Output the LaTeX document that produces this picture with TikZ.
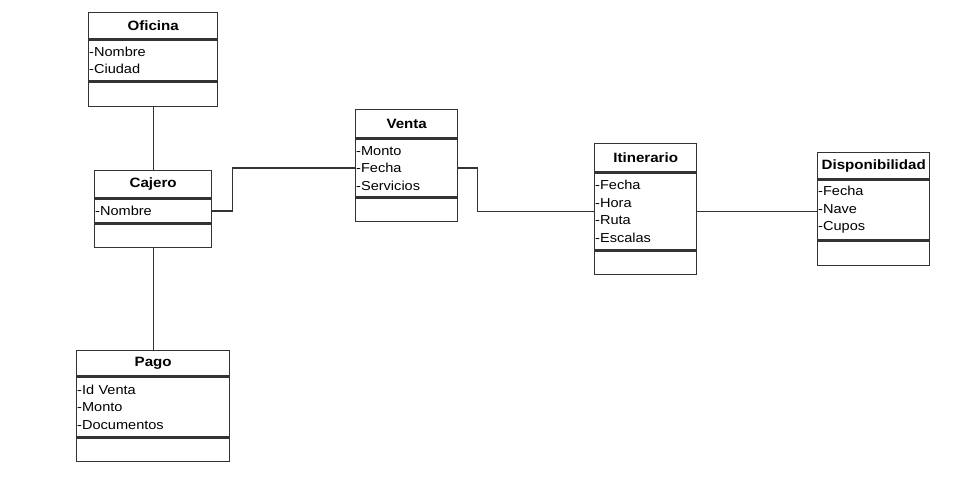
\documentclass[tikz,border=0pt]{standalone}
\usepackage{fontspec}
\setmainfont{Liberation Sans}[FakeStretch=1.12]
\usetikzlibrary{calc}

\begin{document}
\begin{tikzpicture}[x=1pt,y=-1pt,
    caja/.style={draw=black!80, line width=1.4pt, anchor=north west,
      inner xsep=0.5pt, inner ysep=0pt},
    titulo/.style={caja, font=\fontsize{13.5}{16}\selectfont\bfseries},
    atributos/.style={caja, align=left, font=\fontsize{13}{17.5}\selectfont},
    linea/.style={draw=black!80, line width=1.4pt}]

      \useasboundingbox (0,0) rectangle (956,486);

      % Oficina
      \node[titulo, minimum width=129, minimum height=26] (ofiT) at (88,12) {Oficina};
      \node[atributos, minimum width=129, minimum height=41, text width=128]
        (ofiA) at (ofiT.south west) {-Nombre\\-Ciudad};
      \node[caja, minimum width=129, minimum height=24] (ofiO) at (ofiA.south west) {};

      % Cajero
      \node[titulo, minimum width=117, minimum height=27] (cajT) at (94,170) {Cajero};
      \node[atributos, minimum width=117, minimum height=24, text width=116]
        (cajA) at (cajT.south west) {-Nombre};
      \node[caja, minimum width=117, minimum height=23] (cajO) at (cajA.south west) {};

      % Pago
      \node[titulo, minimum width=153, minimum height=25] (pagT) at (76,350) {Pago};
      \node[atributos, minimum width=153, minimum height=60, text width=152]
        (pagA) at (pagT.south west) {-Id Venta\\-Monto\\-Documentos};
      \node[caja, minimum width=153, minimum height=23] (pagO) at (pagA.south west) {};

      % Venta
      \node[titulo, minimum width=102, minimum height=28] (venT) at (355,109) {Venta};
      \node[atributos, minimum width=102, minimum height=58, text width=101]
        (venA) at (venT.south west) {-Monto\\-Fecha\\-Servicios};
      \node[caja, minimum width=102, minimum height=23] (venO) at (venA.south west) {};

      % Itinerario
      \node[titulo, minimum width=102, minimum height=28] (itiT) at (594,143) {Itinerario};
      \node[atributos, minimum width=102, minimum height=77, text width=101]
        (itiA) at (itiT.south west) {-Fecha\\-Hora\\-Ruta\\-Escalas};
      \node[caja, minimum width=102, minimum height=23] (itiO) at (itiA.south west) {};

      % Disponibilidad
      \node[titulo, minimum width=112, minimum height=26] (dispT) at (817,152) {Disponibilidad};
      \node[atributos, minimum width=112, minimum height=60, text width=111]
        (dispA) at (dispT.south west) {-Fecha\\-Nave\\-Cupos};
      \node[caja, minimum width=112, minimum height=24] (dispO) at (dispA.south west) {};

      % relaciones
      \draw[linea] (ofiO.south) -- (cajT.north);
      \draw[linea] (cajO.south) -- (pagT.north);
      \draw[linea] (cajA.east) -- ++(20,0) |- (venA.west);
      \draw[linea] (venA.east) -- ++(19,0) |- (itiA.west);
      \draw[linea] (itiA.east) -- (itiA.east -| dispA.west);

\end{tikzpicture}
\end{document}
